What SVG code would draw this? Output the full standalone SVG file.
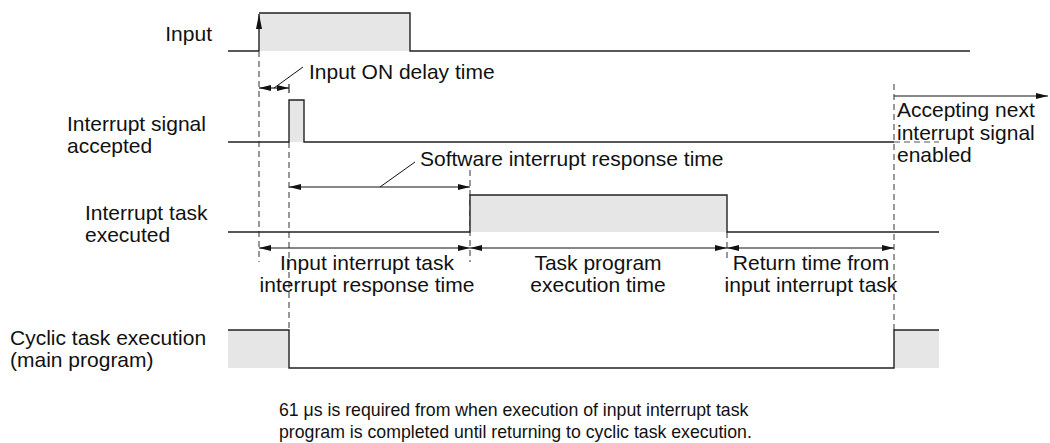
<svg xmlns="http://www.w3.org/2000/svg" width="1050" height="443" viewBox="0 0 1050 443">
<defs>
<style>
text{font-family:"Liberation Sans",Arial,Helvetica,sans-serif;font-size:21px;fill:#111}
.note{font-size:17.7px}
.sig{fill:none;stroke:#222;stroke-width:1.4}
.fill{fill:#e6e6e6;stroke:none}
.dash{fill:none;stroke:#555;stroke-width:1.2;stroke-dasharray:6 4}
.dim{fill:none;stroke:#111;stroke-width:1.1}
.lead{fill:none;stroke:#111;stroke-width:1}
</style>
<marker id="ah" viewBox="0 0 12 6" refX="12" refY="3" markerWidth="12" markerHeight="6" markerUnits="userSpaceOnUse" orient="auto-start-reverse">
<path d="M0,0 L12,3 L0,6 Z" fill="#111"/>
</marker>
<marker id="ahBig" viewBox="0 0 15 6" refX="15" refY="3" markerWidth="15" markerHeight="6" markerUnits="userSpaceOnUse" orient="auto">
<path d="M0,0 L15,3 L0,6 Z" fill="#111"/>
</marker>
</defs>
<rect width="1050" height="443" fill="#fff"/>

<g id="guides">
<line class="dash" x1="259" y1="51" x2="259" y2="262"/>
<line class="dash" x1="289" y1="142" x2="289" y2="330"/>
<line class="dash" x1="470" y1="170" x2="470" y2="262"/>
<line class="dash" x1="727" y1="232" x2="727" y2="262"/>
<line class="dash" x1="894" y1="84" x2="894" y2="330"/>
<line class="dash" x1="894" y1="142" x2="939" y2="142"/>
</g>

<g id="input-signal">
<rect class="fill" x="259" y="13" width="151" height="38"/>
<path class="sig" d="M228,51 H259 M259,13 H410 V51 H970"/>
<line class="sig" x1="259" y1="51" x2="259" y2="14" marker-end="url(#ahBig)"/>
<text x="212" y="41" text-anchor="end">Input</text>
</g>

<g id="interrupt-accepted">
<rect class="fill" x="289" y="100" width="15" height="42"/>
<path class="sig" d="M228,142 H289 V100 H304 V142 H894"/>
<text x="67" y="131">Interrupt signal</text>
<text x="67" y="153">accepted</text>
</g>

<g id="interrupt-task">
<rect class="fill" x="470" y="195" width="257" height="37"/>
<path class="sig" d="M228,232 H470 V195 H727 V232 H939"/>
<text x="85" y="220">Interrupt task</text>
<text x="85" y="242">executed</text>
</g>

<g id="cyclic-task">
<rect class="fill" x="228" y="330" width="61" height="38"/>
<rect class="fill" x="894" y="330" width="45" height="38"/>
<path class="sig" d="M228,330 H289 V368 H894 V330 H939"/>
<text x="10" y="345">Cyclic task execution</text>
<text x="10" y="367">(main program)</text>
</g>

<g id="connectors">
<line class="dim" x1="259" y1="88" x2="289" y2="88" marker-start="url(#ah)" marker-end="url(#ah)"/>
<line class="dim" x1="289" y1="84" x2="289" y2="93"/>
<line class="lead" x1="274" y1="88" x2="303" y2="67"/>
<line class="dim" x1="289" y1="187" x2="470" y2="187" marker-start="url(#ah)" marker-end="url(#ah)"/>
<line class="lead" x1="380" y1="187" x2="415" y2="162"/>
<line class="dim" x1="259" y1="248" x2="470" y2="248" marker-start="url(#ah)" marker-end="url(#ah)"/>
<line class="dim" x1="470" y1="248" x2="727" y2="248" marker-start="url(#ah)" marker-end="url(#ah)"/>
<line class="dim" x1="727" y1="248" x2="894" y2="248" marker-start="url(#ah)" marker-end="url(#ah)"/>
<line class="dim" x1="894" y1="96" x2="1048" y2="96" marker-end="url(#ah)"/>
</g>

<g id="label-delay"><text x="309" y="79">Input ON delay time</text></g>
<g id="label-software"><text x="420" y="166">Software interrupt response time</text></g>
<g id="label-response">
<text x="367" y="270" text-anchor="middle">Input interrupt task</text>
<text x="367" y="292" text-anchor="middle">interrupt response time</text>
</g>
<g id="label-exec">
<text x="598" y="270" text-anchor="middle">Task program</text>
<text x="598" y="292" text-anchor="middle">execution time</text>
</g>
<g id="label-return">
<text x="811" y="270" text-anchor="middle">Return time from</text>
<text x="811" y="292" text-anchor="middle">input interrupt task</text>
</g>
<g id="label-accepting">
<text x="897" y="117">Accepting next</text>
<text x="897" y="139.5">interrupt signal</text>
<text x="897" y="162">enabled</text>
</g>
<g id="note">
<text class="note" x="279" y="416">61 μs is required from when execution of input interrupt task</text>
<text class="note" x="279" y="438">program is completed until returning to cyclic task execution.</text>
</g>
</svg>
